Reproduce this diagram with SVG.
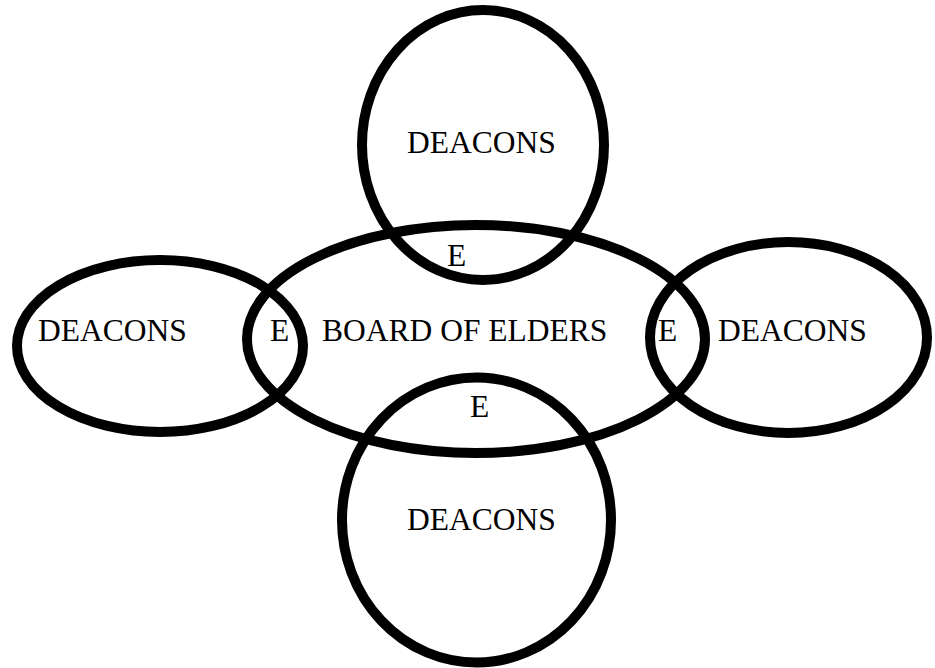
<svg xmlns="http://www.w3.org/2000/svg" width="935" height="668" viewBox="0 0 935 668">
<style>
.shape{fill:none;stroke:#000;stroke-width:10}
.lbl{font-family:"Liberation Serif","Times New Roman",serif;font-size:31.5px;fill:#000}
</style>
<rect x="0" y="0" width="935" height="668" fill="#fff"/>
<g id="board-of-elders">
<ellipse class="shape" cx="476" cy="339" rx="229" ry="114"/>
<text class="lbl" x="322" y="341">BOARD OF ELDERS</text>
</g>
<g id="deacons-top">
<ellipse class="shape" cx="483" cy="145" rx="121" ry="135"/>
<text class="lbl" x="407" y="153">DEACONS</text>
</g>
<g id="deacons-left">
<ellipse class="shape" cx="160" cy="346" rx="143" ry="86"/>
<text class="lbl" x="38" y="341">DEACONS</text>
</g>
<g id="deacons-right">
<ellipse class="shape" cx="788.5" cy="337.5" rx="138.5" ry="95.5"/>
<text class="lbl" x="718" y="341">DEACONS</text>
</g>
<g id="deacons-bottom">
<ellipse class="shape" cx="476.5" cy="520" rx="134.5" ry="142.5"/>
<text class="lbl" x="407" y="530">DEACONS</text>
</g>
<g id="overlap-top"><text class="lbl" x="447" y="266">E</text></g>
<g id="overlap-left"><text class="lbl" x="270" y="341">E</text></g>
<g id="overlap-right"><text class="lbl" x="658" y="341">E</text></g>
<g id="overlap-bottom"><text class="lbl" x="470" y="417">E</text></g>
</svg>
